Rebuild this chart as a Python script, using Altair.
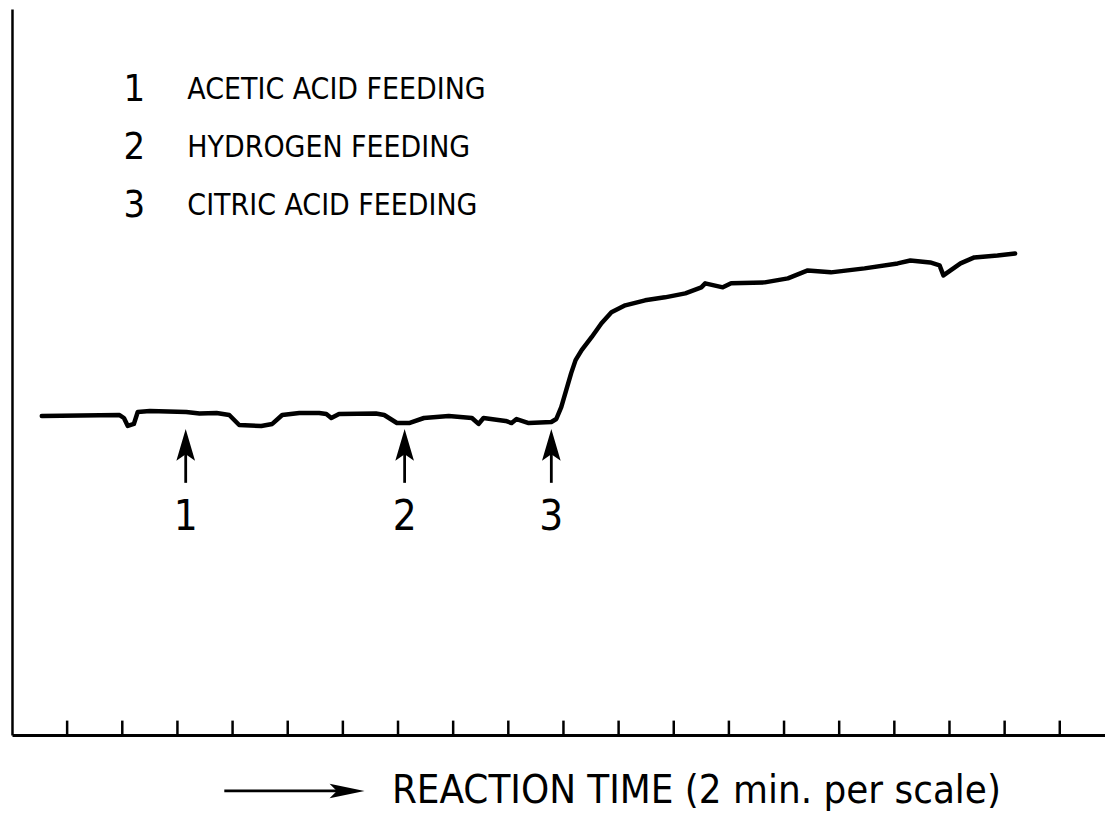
import altair as alt
import pandas as pd

# Reaction-time trace (x in tick-scale units, y in arbitrary signal units)
time_vals = [0.54, 1.95, 2.03, 2.10, 2.21, 2.28, 2.50, 3.16, 3.40, 3.71, 3.94, 4.12, 4.52, 4.72,
             4.90, 5.21, 5.57, 5.70, 5.79, 5.93, 6.60, 6.75, 6.98, 7.20, 7.47, 7.92, 8.34, 8.46,
             8.55, 8.95, 9.06, 9.15, 9.37, 9.78, 9.87, 9.96, 10.05, 10.14, 10.22, 10.33, 10.51,
             10.69, 10.87, 11.12, 11.48, 11.84, 12.21, 12.50, 12.57, 12.89, 13.04, 13.65, 14.07,
             14.43, 14.85, 15.46, 16.06, 16.29, 16.65, 16.82, 16.89, 17.20, 17.45, 17.87, 18.19]
signal_vals = [43.96, 44.09, 43.68, 42.58, 42.86, 44.51, 44.64, 44.51, 44.30, 44.37, 44.09, 42.72,
               42.58, 42.86, 44.09, 44.37, 44.37, 44.23, 43.68, 44.23, 44.30, 44.09, 42.99, 42.99,
               43.68, 43.96, 43.68, 42.86, 43.68, 43.27, 42.99, 43.54, 42.99, 43.13, 43.54, 45.19,
               47.53, 49.86, 51.65, 53.02, 54.81, 56.73, 58.24, 59.20, 59.89, 60.30, 60.85, 61.68,
               62.23, 61.68, 62.23, 62.36, 62.91, 64.01, 63.74, 64.29, 64.97, 65.38, 65.11, 64.70,
               63.32, 64.97, 65.80, 66.07, 66.35]

tick_positions = list(range(1, 20))

event_x = [3.15, 7.12, 9.78]
event_labels = ["1", "2", "3"]
arrow_base = 34.75
arrow_head = 39.6
event_label_y = 30.1

legend_numbers = ["1", "2", "3"]
legend_texts = ["ACETIC ACID FEEDING", "HYDROGEN FEEDING", "CITRIC ACID FEEDING"]
legend_y = [88.9, 80.8, 72.9]
legend_num_x = 2.22
legend_text_x = 3.18

axis_title = "REACTION TIME (2 min. per scale)"
title_arrow_x = [3.85, 6.0]
title_arrow_head_x = 6.02
title_x = 6.89
title_y = -7.69

FONT = "'Liberation Sans Narrow', 'DejaVu Sans Condensed', 'Roboto Condensed', 'Liberation Sans', sans-serif"

xs = alt.Scale(domain=[0, 19.82], nice=False, zero=False)
ys = alt.Scale(domain=[0, 100], nice=False, zero=False)

curve_df = pd.DataFrame({"t": time_vals, "v": signal_vals})
tick_df = pd.DataFrame({"t": tick_positions})
event_df = pd.DataFrame({"t": event_x, "label": event_labels})
legend_df = pd.DataFrame({"num": legend_numbers, "text": legend_texts, "y": legend_y})
title_df = pd.DataFrame({"x1": [title_arrow_x[0]], "x2": [title_arrow_x[1]],
                         "hx": [title_arrow_head_x], "tx": [title_x], "y": [title_y],
                         "label": [axis_title]})

curve = alt.Chart(curve_df).mark_line(
    color="black", strokeWidth=4.5, strokeJoin="round", strokeCap="round"
).encode(
    x=alt.X("t:Q", scale=xs, axis=alt.Axis(domain=True, domainColor="black", domainWidth=3,
                                            ticks=False, labels=False, grid=False, title=None)),
    y=alt.Y("v:Q", scale=ys, axis=alt.Axis(domain=True, domainColor="black", domainWidth=2.5,
                                            ticks=False, labels=False, grid=False, title=None)),
)

ticks = alt.Chart(tick_df).mark_rule(color="black", strokeWidth=2.5).encode(
    x=alt.X("t:Q", scale=xs), y=alt.datum(0), y2=alt.datum(2.0)
)

event_shaft = alt.Chart(event_df).mark_rule(color="black", strokeWidth=2.8).encode(
    x=alt.X("t:Q", scale=xs), y=alt.datum(arrow_base), y2=alt.datum(arrow_head)
)
event_head = alt.Chart(event_df).mark_point(
    shape="M0,-1L0.5,0.7L0,0.35L-0.5,0.7Z", filled=True, color="black", size=1400, opacity=1
).encode(x=alt.X("t:Q", scale=xs), y=alt.datum(arrow_head))
event_text = alt.Chart(event_df).mark_text(
    font=FONT, fontSize=42, color="black", align="center", baseline="middle"
).encode(x=alt.X("t:Q", scale=xs), y=alt.datum(event_label_y), text="label:N")

legend_num = alt.Chart(legend_df).mark_text(
    font=FONT, fontSize=38, color="black", align="center", baseline="middle"
).encode(x=alt.datum(legend_num_x), y=alt.Y("y:Q", scale=ys), text="num:N")
legend_txt = alt.Chart(legend_df).mark_text(
    font=FONT, fontSize=30, color="black", align="left", baseline="middle"
).encode(x=alt.datum(legend_text_x), y=alt.Y("y:Q", scale=ys), text="text:N")

title_line = alt.Chart(title_df).mark_rule(color="black", strokeWidth=2.8).encode(
    x=alt.X("x1:Q", scale=xs), x2="x2:Q", y=alt.Y("y:Q", scale=ys)
)
title_head = alt.Chart(title_df).mark_point(
    shape="M1,0L-0.7,-0.35L-0.35,0L-0.7,0.35Z", filled=True, color="black", size=1700, opacity=1
).encode(x=alt.X("hx:Q", scale=xs), y=alt.Y("y:Q", scale=ys))
title_text = alt.Chart(title_df).mark_text(
    font=FONT, fontSize=40, color="black", align="left", baseline="middle"
).encode(x=alt.X("tx:Q", scale=xs), y=alt.Y("y:Q", scale=ys), text="label:N")

chart = alt.layer(
    curve, ticks, event_shaft, event_head, event_text, legend_num, legend_txt,
    title_line, title_head, title_text
).properties(
    width=1096, height=728,
    padding={"left": 4, "top": 0, "right": 0, "bottom": 84},
    autosize=alt.AutoSizeParams(type="none"),
    background="white",
).configure_view(stroke=None)

chart.save("out.html", embed_options={"renderer": "svg", "actions": False})
